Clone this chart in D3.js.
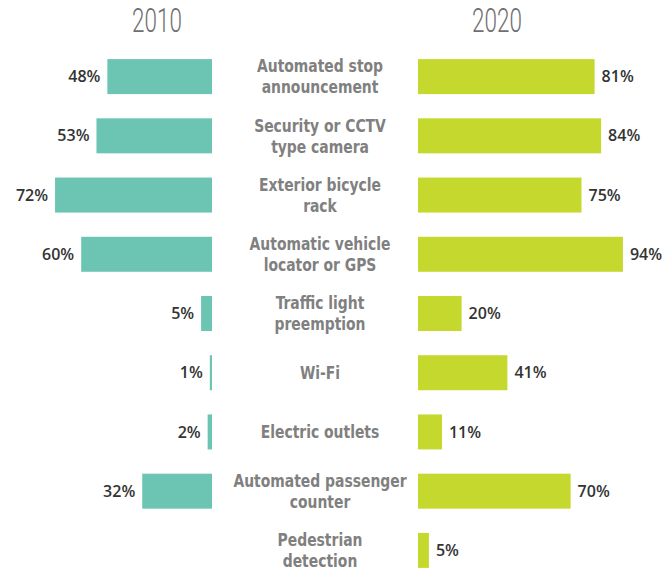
<!DOCTYPE html>
<html>
<head>
<meta charset="utf-8">
<script src="https://cdn.jsdelivr.net/npm/d3@7"></script>
<style>
  body { margin: 0; background: #fff; }
  svg { display: block; }
</style>
</head>
<body>
<div id="chart"></div>
<script>
// categories, split in the lines they are drawn on
const categories = [
  ['Automated stop', 'announcement'],
  ['Security or CCTV', 'type camera'],
  ['Exterior bicycle', 'rack'],
  ['Automatic vehicle', 'locator or GPS'],
  ['Traffic light', 'preemption'],
  ['Wi-Fi'],
  ['Electric outlets'],
  ['Automated passenger', 'counter'],
  ['Pedestrian', 'detection']
]
const years = ['2010', '2020']
const values2010 = [48, 53, 72, 60, 5, 1, 2, 32, null]
const values2020 = [81, 84, 75, 94, 20, 41, 11, 70, 5]

const width = 665, height = 573
const center = 320
const barLen = 218   // pixels for 100%

const svg = d3.select('#chart').append('svg')
  .attr('width', width)
  .attr('height', height)

const yScale = d3.scaleBand()
  .domain(d3.range(categories.length))
  .range([47, 580])
  .paddingInner(0.4)
  .paddingOuter(0.2)

// left side grows to the left from x=212, right side from x=418
const xLeft = d3.scaleLinear().domain([0, 100]).range([212, 212 - barLen])
const xRight = d3.scaleLinear().domain([0, 100]).range([418, 418 + barLen])

const bh = 35
const rowY = i => yScale(i) + yScale.bandwidth() / 2

// year headers
svg.selectAll('text.year')
  .data(years)
  .enter().append('text')
  .attr('class', 'year')
  .attr('transform', (d, i) => `translate(${i === 0 ? 157 : 497},32) scale(0.68,1)`)
  .attr('text-anchor', 'middle')
  .style('font-family', 'Roboto, sans-serif')
  .style('font-weight', 300)
  .style('font-size', '33px')
  .style('fill', '#6f6f6f')
  .text(d => d)

const left = values2010.map((v, i) => ({ v, i })).filter(d => d.v != null)
const right = values2020.map((v, i) => ({ v, i }))

svg.selectAll('rect.l')
  .data(left)
  .enter().append('rect')
  .attr('class', 'l')
  .attr('x', d => xLeft(d.v))
  .attr('y', d => rowY(d.i) - bh / 2)
  .attr('width', d => xLeft(0) - xLeft(d.v))
  .attr('height', bh)
  .attr('fill', '#6cc4b3')

svg.selectAll('rect.r')
  .data(right)
  .enter().append('rect')
  .attr('class', 'r')
  .attr('x', xRight(0))
  .attr('y', d => rowY(d.i) - bh / 2)
  .attr('width', d => xRight(d.v) - xRight(0))
  .attr('height', bh)
  .attr('fill', '#c5d82d')

const valStyle = sel => sel
  .style('font-family', '"Open Sans", sans-serif')
  .style('font-weight', 600)
  .style('font-size', '16px')
  .style('fill', '#333')
  .attr('dy', '0.35em')

svg.selectAll('text.lv')
  .data(left)
  .enter().append('text')
  .attr('class', 'lv')
  .attr('x', d => xLeft(d.v) - 7)
  .attr('y', d => rowY(d.i))
  .attr('text-anchor', 'end')
  .call(valStyle)
  .text(d => d.v + '%')

svg.selectAll('text.rv')
  .data(right)
  .enter().append('text')
  .attr('class', 'rv')
  .attr('x', d => xRight(d.v) + 7)
  .attr('y', d => rowY(d.i))
  .call(valStyle)
  .text(d => d.v + '%')

// category labels in the middle, squeezed to look condensed
const cat = svg.selectAll('text.cat')
  .data(categories)
  .enter().append('text')
  .attr('class', 'cat')
  .attr('transform', `translate(${center},0) scale(0.86,1)`)
  .attr('text-anchor', 'middle')
  .style('font-family', '"DejaVu Sans Condensed", sans-serif')
  .style('font-weight', 700)
  .style('font-size', '18px')
  .style('fill', '#808080')

cat.selectAll('tspan')
  .data((d, i) => d.map((line, k) => ({ line, k, n: d.length, i })))
  .enter().append('tspan')
  .attr('x', 0)
  .attr('y', d => rowY(d.i) + (d.k - (d.n - 1) / 2) * 21)
  .attr('dy', '0.35em')
  .text(d => d.line)
</script>
</body>
</html>
